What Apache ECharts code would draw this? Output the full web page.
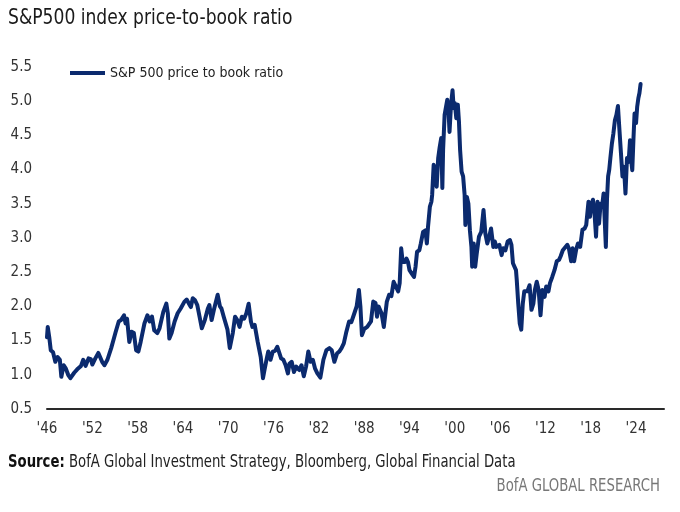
<!DOCTYPE html>
<html>
<head>
<meta charset="utf-8">
<script src="https://cdn.jsdelivr.net/npm/echarts@6/dist/echarts.min.js"></script>
<style>
html,body{margin:0;padding:0;background:#fff;}
#chart{width:680px;height:512px;}
</style>
</head>
<body>
<div id="chart"></div>
<script>
var titleText = "S&P500 index price-to-book ratio";
var seriesName = "S&P 500 price to book ratio";
var sourceLabel = "Source:";
var sourceText = " BofA Global Investment Strategy, Bloomberg, Global Financial Data";
var brandText = "BofA GLOBAL RESEARCH";
var baseYear = 1946;
var xTickYears = [1946,1952,1958,1964,1970,1976,1982,1988,1994,2000,2006,2012,2018,2024];
var yTicks = [0.5,1.0,1.5,2.0,2.5,3.0,3.5,4.0,4.5,5.0,5.5];

var years = [
1946.0,1946.1,1946.3,1946.5,1946.8,1947.1,1947.4,1947.7,1947.9,1948.2,1948.5,1948.8,1949.1,1949.6,1950.0,1950.5,1950.8,1951.1,1951.5,1951.8,
1952.0,1952.4,1952.8,1953.3,1953.6,1954.0,1954.5,1954.8,1955.1,1955.5,1955.8,1956.2,1956.4,1956.6,1956.9,1957.2,1957.5,1957.8,1958.1,1958.4,
1958.9,1959.3,1959.6,1959.9,1960.2,1960.6,1960.9,1961.4,1961.8,1962.0,1962.2,1962.5,1962.9,1963.3,1963.7,1964.2,1964.5,1964.8,1965.05,1965.3,
1965.6,1965.9,1966.2,1966.5,1966.9,1967.3,1967.5,1967.8,1968.1,1968.3,1968.6,1968.9,1969.1,1969.4,1969.6,1969.9,1970.2,1970.6,1970.9,1971.2,
1971.5,1971.8,1972.1,1972.4,1972.7,1973.0,1973.2,1973.5,1973.9,1974.3,1974.6,1974.8,1975.1,1975.3,1975.6,1975.9,1976.2,1976.5,1976.7,1977.0,
1977.3,1977.6,1977.9,1978.1,1978.4,1978.7,1979.0,1979.4,1979.7,1980.0,1980.3,1980.6,1980.9,1981.2,1981.5,1981.8,1982.2,1982.6,1983.0,1983.4,
1983.7,1984.05,1984.4,1984.7,1985.0,1985.3,1985.6,1986.0,1986.3,1986.7,1987.0,1987.3,1987.5,1987.7,1988.0,1988.4,1988.9,1989.2,1989.5,1989.7,
1989.9,1990.3,1990.6,1991.0,1991.3,1991.6,1991.9,1992.2,1992.5,1992.7,1992.9,1993.1,1993.4,1993.6,1993.8,1994.0,1994.3,1994.6,1994.8,1995.0,
1995.3,1995.5,1995.8,1996.1,1996.3,1996.45,1996.7,1996.9,1997.0,1997.2,1997.4,1997.6,1997.8,1998.0,1998.2,1998.35,1998.45,1998.65,1999.0,1999.15,
1999.3,1999.5,1999.7,1999.85,2000.0,2000.2,2000.4,2000.55,2000.7,2000.9,2001.1,2001.3,2001.4,2001.6,2001.8,2002.0,2002.2,2002.3,2002.5,2002.7,
2002.9,2003.2,2003.5,2003.8,2004.05,2004.3,2004.6,2004.8,2005.1,2005.3,2005.5,2005.9,2006.2,2006.4,2006.7,2007.0,2007.3,2007.5,2007.7,2008.1,
2008.2,2008.4,2008.6,2008.8,2009.0,2009.2,2009.4,2009.6,2009.9,2010.15,2010.4,2010.6,2010.85,2011.1,2011.35,2011.6,2011.9,2012.1,2012.4,2012.6,
2012.9,2013.2,2013.5,2013.8,2014.0,2014.3,2014.9,2015.1,2015.4,2015.6,2015.8,2016.05,2016.3,2016.6,2016.9,2017.2,2017.4,2017.7,2017.9,2018.1,
2018.3,2018.5,2018.7,2018.9,2019.1,2019.3,2019.5,2019.7,2020.0,2020.15,2020.3,2020.45,2020.6,2020.8,2021.0,2021.2,2021.4,2021.6,2021.8,2022.0,
2022.2,2022.4,2022.6,2022.8,2022.95,2023.05,2023.2,2023.35,2023.5,2023.65,2023.8,2024.0,2024.15,2024.3,2024.45,2024.6
];
var pbValues = [
1.55,1.70,1.55,1.36,1.33,1.19,1.26,1.22,0.97,1.14,1.09,1.00,0.95,1.03,1.08,1.13,1.22,1.13,1.24,1.23,
1.15,1.24,1.32,1.19,1.14,1.22,1.39,1.51,1.63,1.78,1.80,1.87,1.75,1.82,1.48,1.63,1.61,1.36,1.34,1.48,
1.75,1.87,1.78,1.85,1.65,1.61,1.68,1.92,2.04,1.90,1.53,1.61,1.78,1.90,1.97,2.07,2.10,2.04,1.99,2.12,
2.09,2.02,1.85,1.68,1.80,1.97,2.02,1.80,1.95,1.97,2.17,2.00,1.97,1.85,1.87,1.66,1.39,1.61,1.85,1.80,
1.70,1.85,1.82,1.90,2.04,1.78,1.70,1.73,1.48,1.26,0.95,1.07,1.24,1.34,1.22,1.34,1.35,1.41,1.39,1.24,
1.22,1.14,1.02,1.16,1.19,1.04,1.12,1.07,1.14,0.98,1.12,1.34,1.19,1.22,1.09,1.02,0.96,1.22,1.36,1.39,
1.36,1.19,1.31,1.34,1.39,1.46,1.61,1.78,1.77,1.90,2.00,2.24,2.00,1.58,1.67,1.70,1.78,2.07,2.05,1.85,
2.00,1.90,1.70,2.07,2.17,2.15,2.36,2.29,2.22,2.34,2.85,2.65,2.65,2.70,2.65,2.53,2.48,2.43,2.58,2.80,
2.82,2.92,3.09,3.11,2.92,3.16,3.46,3.53,3.63,4.07,4.00,3.75,4.17,4.33,4.46,3.73,4.29,4.80,5.02,4.90,
4.55,4.95,5.16,4.90,4.97,4.75,4.95,4.70,4.29,3.97,3.90,3.63,3.19,3.60,3.50,3.11,2.87,2.58,2.92,2.58,
2.77,3.02,3.09,3.41,3.06,2.92,3.04,3.14,2.87,2.95,2.87,2.90,2.75,2.85,2.82,2.95,2.97,2.90,2.63,2.53,
2.39,2.04,1.75,1.66,2.04,2.22,2.24,2.22,2.31,1.95,2.04,2.24,2.36,2.24,1.87,2.24,2.14,2.29,2.22,2.34,
2.43,2.53,2.66,2.68,2.73,2.82,2.90,2.85,2.66,2.85,2.66,2.82,2.92,2.87,3.12,3.14,3.19,3.53,3.31,3.50,
3.56,3.36,3.02,3.53,3.21,3.50,3.46,3.65,2.87,3.56,3.90,4.00,4.17,4.38,4.53,4.72,4.80,4.93,4.58,4.24,
3.90,4.04,3.65,4.17,4.11,4.17,4.43,4.14,3.99,4.43,4.82,4.68,4.92,5.04,5.12,5.25
];

var FONT = "'Liberation Sans Narrow', 'Arial Narrow', 'DejaVu Sans Condensed', sans-serif";
var NAVY = '#0b2a6e';
var SX = 0.866;

var seriesData = years.map(function (y, i) { return [y - baseYear, pbValues[i]]; });

var chart = echarts.init(document.getElementById('chart'), null, {renderer: 'canvas'});
chart.setOption({
  animation: false,
  backgroundColor: '#ffffff',
  grid: {left: 47, right: 16, top: 67, bottom: 103, containLabel: false},
  legend: {
    show: true,
    left: 70, top: 66, padding: 0,
    itemWidth: 35, itemHeight: 4, itemGap: 10,
    icon: 'rect',
    textStyle: {fontFamily: FONT, fontSize: 14, color: '#222'},
    data: [{name: seriesName, icon: 'rect'}]
  },
  xAxis: {
    type: 'value',
    min: 0,
    max: 81.7,
    interval: 6,
    axisLine: {show: true, lineStyle: {color: '#2a2a2a', width: 2}},
    axisTick: {show: false},
    splitLine: {show: false},
    axisLabel: {
      margin: 13,
      fontFamily: FONT, fontSize: 15, color: '#333',
      showMaxLabel: false,
      formatter: function (v) {
        var yr = Math.round(v + baseYear);
        if (xTickYears.indexOf(yr) < 0) return '';
        return "'" + String(yr).slice(2);
      }
    }
  },
  yAxis: {
    type: 'value',
    min: yTicks[0],
    max: yTicks[yTicks.length - 1],
    interval: 0.5,
    axisLine: {show: false},
    axisTick: {show: false},
    splitLine: {show: false},
    axisLabel: {
      margin: 15,
      fontFamily: FONT, fontSize: 15, color: '#333',
      formatter: function (v) { return v.toFixed(1); }
    }
  },
  series: [{
    name: seriesName,
    type: 'line',
    data: seriesData,
    showSymbol: false,
    symbol: 'none',
    smooth: false,
    lineStyle: {color: NAVY, width: 4, join: 'round', cap: 'round'},
    itemStyle: {color: NAVY}
  }],
  graphic: [
    {type: 'text', x: 8, y: 7, scaleX: SX, style: {text: titleText, font: '22px ' + FONT, fill: '#1a1a1a'}},
    {type: 'text', x: 8, y: 454, scaleX: SX, style: {
      text: '{b|' + sourceLabel + '}{r|' + sourceText + '}',
      rich: {
        b: {fontFamily: FONT, fontSize: 17, fontWeight: 'bold', fill: '#111', color: '#111'},
        r: {fontFamily: FONT, fontSize: 17, fill: '#222', color: '#222'}
      }
    }},
    {type: 'text', x: 660, y: 478, scaleX: SX, style: {text: brandText, font: '17px ' + FONT, fill: '#777', align: 'right'}}
  ]
});
</script>
</body>
</html>
